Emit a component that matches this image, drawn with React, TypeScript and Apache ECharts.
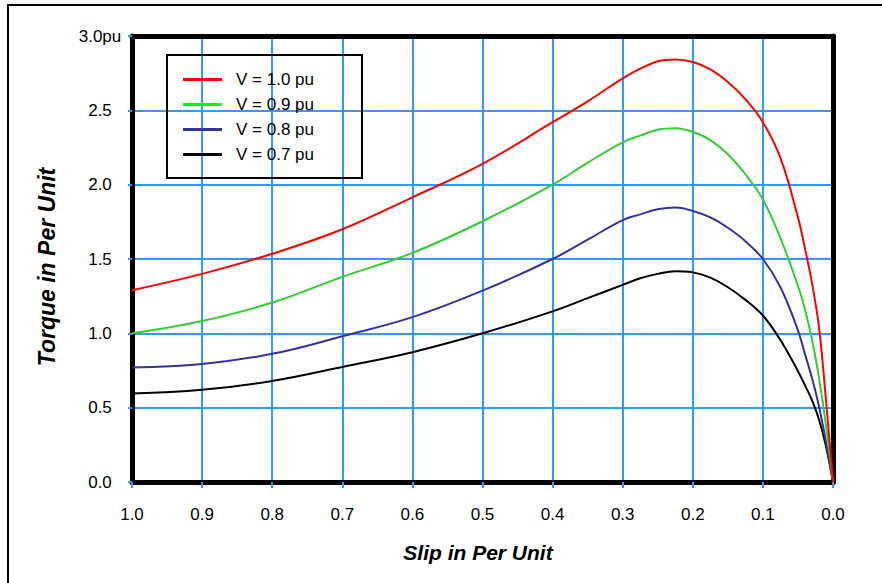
import React, { useEffect, useRef } from "react";
import * as echarts from "echarts";

// Slip (per unit) — shared x values
const slip = [1.0, 0.9, 0.8, 0.7, 0.6, 0.5, 0.4, 0.35, 0.3, 0.275, 0.25, 0.225, 0.2, 0.175, 0.15, 0.125, 0.1, 0.075, 0.05, 0.04, 0.03, 0.02, 0.01, 0];
// Torque (per unit) for each supply voltage
const torqueV10 = [1.29, 1.4, 1.535, 1.7, 1.915, 2.14, 2.42, 2.56, 2.715, 2.78, 2.83, 2.842, 2.825, 2.775, 2.69, 2.575, 2.42, 2.18, 1.78, 1.57, 1.34, 1.04, 0.55, 0];
const torqueV09 = [1.0, 1.083, 1.207, 1.38, 1.541, 1.754, 2.0, 2.148, 2.285, 2.33, 2.37, 2.38, 2.356, 2.3, 2.205, 2.07, 1.9, 1.64, 1.32, 1.16, 0.96, 0.7, 0.38, 0];
const torqueV08 = [0.77, 0.794, 0.862, 0.98, 1.109, 1.287, 1.5, 1.63, 1.762, 1.8, 1.834, 1.846, 1.823, 1.78, 1.71, 1.62, 1.5, 1.31, 1.02, 0.86, 0.7, 0.51, 0.27, 0];
const torqueV07 = [0.595, 0.62, 0.68, 0.774, 0.873, 1.0, 1.148, 1.237, 1.326, 1.37, 1.4, 1.417, 1.41, 1.375, 1.31, 1.225, 1.12, 0.955, 0.745, 0.65, 0.55, 0.42, 0.24, 0];

const seriesNames = ["V = 1.0 pu", "V = 0.9 pu", "V = 0.8 pu", "V = 0.7 pu"];
const lineColors = ["#ff0000", "#33cc33", "#333399", "#000000"];
const legendColors = ["#ff0000", "#00ff00", "#333399", "#000000"];
const xTickLabels = ["0.0", "0.1", "0.2", "0.3", "0.4", "0.5", "0.6", "0.7", "0.8", "0.9", "1.0"];
const yTickLabels = ["0.0", "0.5", "1.0", "1.5", "2.0", "2.5", "3.0pu"];

const FONT = '"Liberation Sans", Arial, sans-serif';
const GRID_BLUE = "#3399ff";

export default function App() {
  const ref = useRef<HTMLDivElement>(null);
  useEffect(() => {
    document.body.style.margin = "0";
    if (!ref.current) return;
    const chart = echarts.init(ref.current, undefined, { renderer: "svg" });
    const torques = [torqueV10, torqueV09, torqueV08, torqueV07];
    const option = {
      animation: false,
      backgroundColor: "#ffffff",
      textStyle: { fontFamily: FONT },
      grid: { left: 132, right: 49, top: 36, bottom: 101, containLabel: false },
      legend: {
        orient: "vertical",
        left: 167,
        top: 55,
        padding: [16, 48, 15, 16],
        borderColor: "#000",
        borderWidth: 2,
        itemWidth: 39,
        itemHeight: 3,
        itemGap: 8,
        icon: "rect",
        textStyle: { fontSize: 17, color: "#000", fontFamily: FONT, lineHeight: 17, padding: [0, 0, 0, 9] },
        data: seriesNames.map((n, i) => ({ name: n, itemStyle: { color: legendColors[i] } })),
      },
      xAxis: [
        {
          type: "value",
          min: 0,
          max: 1,
          interval: 0.1,
          inverse: true,
          axisLine: { show: true, onZero: false, lineStyle: { color: "#000", width: 5 } },
          axisTick: { show: true, length: 6, lineStyle: { color: GRID_BLUE, width: 2 } },
          axisLabel: {
            margin: 24,
            fontSize: 17,
            color: "#000",
            fontFamily: FONT,
            formatter: (v: number) => xTickLabels[Math.round(v * 10)],
          },
          splitLine: { show: true, showMinLine: false, showMaxLine: false, lineStyle: { color: GRID_BLUE, width: 2 } },
        },
        {
          type: "value",
          position: "top",
          min: 0,
          max: 1,
          inverse: true,
          axisLine: { show: true, onZero: false, lineStyle: { color: "#000", width: 5 } },
          axisTick: { show: false },
          axisLabel: { show: false },
          splitLine: { show: false },
        },
      ],
      yAxis: [
        {
          type: "value",
          min: 0,
          max: 3,
          interval: 0.5,
          axisLine: { show: true, onZero: false, lineStyle: { color: "#000", width: 5 } },
          axisTick: { show: true, length: 4, lineStyle: { color: GRID_BLUE, width: 2 } },
          axisLabel: {
            margin: 32,
            align: "center",
            fontSize: 17,
            color: "#000",
            fontFamily: FONT,
            formatter: (v: number) => yTickLabels[Math.round(v * 2)],
          },
          splitLine: { show: true, showMinLine: false, showMaxLine: false, lineStyle: { color: GRID_BLUE, width: 2 } },
        },
        {
          type: "value",
          position: "right",
          min: 0,
          max: 3,
          axisLine: { show: true, onZero: false, lineStyle: { color: "#000", width: 5 } },
          axisTick: { show: false },
          axisLabel: { show: false },
          splitLine: { show: false },
        },
      ],
      graphic: [
        {
          type: "rect",
          shape: { x: 8, y: 5, width: 1000, height: 1000 },
          style: { fill: "none", stroke: "#000", lineWidth: 2 },
          silent: true,
        },
        {
          type: "text",
          x: 478,
          y: 552,
          style: {
            text: "Slip in Per Unit",
            fontFamily: FONT,
            fontSize: 21,
            fontWeight: "bold",
            fontStyle: "italic",
            fill: "#000",
            align: "center",
            verticalAlign: "middle",
          },
        },
        {
          type: "text",
          x: 47,
          y: 267,
          rotation: Math.PI / 2,
          style: {
            text: "Torque in Per Unit",
            fontFamily: FONT,
            fontSize: 23,
            fontWeight: "bold",
            fontStyle: "italic",
            fill: "#000",
            align: "center",
            verticalAlign: "middle",
          },
        },
      ],
      series: seriesNames.map((n, i) => ({
        name: n,
        type: "line",
        xAxisIndex: 0,
        yAxisIndex: 0,
        showSymbol: false,
        smooth: 0.4,
        lineStyle: { color: lineColors[i], width: 2 },
        itemStyle: { color: lineColors[i] },
        z: 10 - i,
        data: slip.map((s, j) => [s, torques[i][j]]),
      })),
    };
    chart.setOption(option as any);
    return () => chart.dispose();
  }, []);
  return <div ref={ref} style={{ width: 882, height: 583 }} />;
}
